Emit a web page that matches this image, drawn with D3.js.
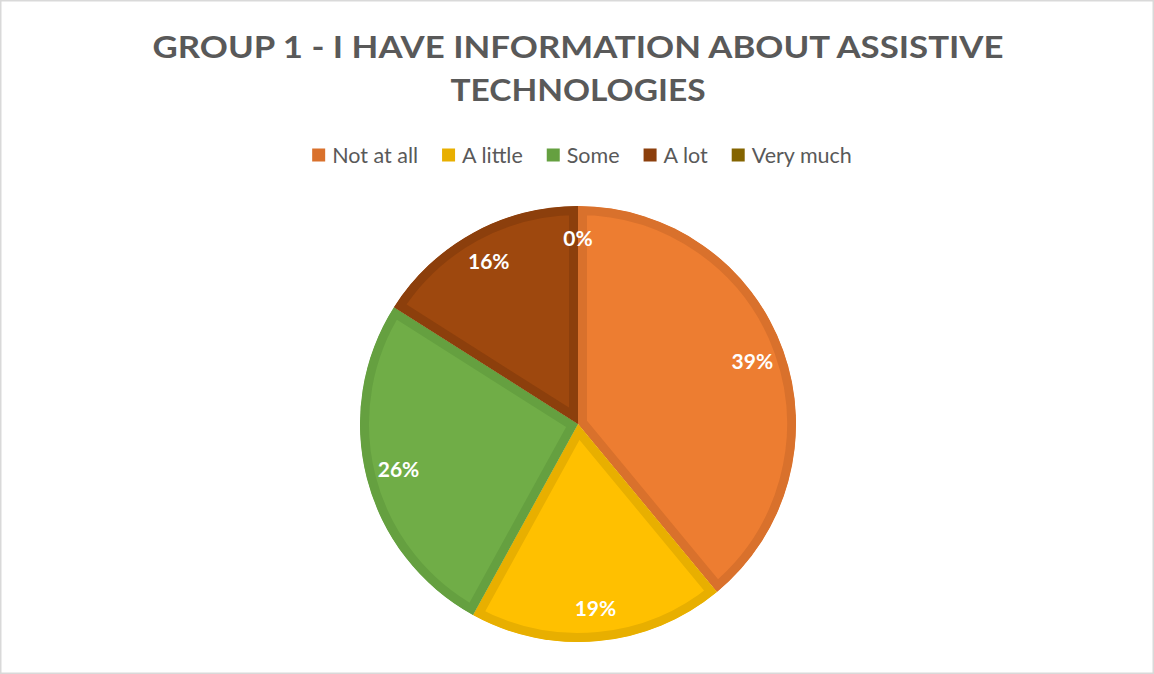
<!DOCTYPE html>
<html>
<head>
<meta charset="utf-8">
<script src="https://cdn.jsdelivr.net/npm/d3@7"></script>
<style>
  html, body { margin: 0; padding: 0; background: #fff; }
  svg { display: block; }
</style>
</head>
<body>
<svg id="chart" width="1154" height="674"></svg>
<script>
// Survey answers, share of respondents (%)
const categories = ["Not at all", "A little", "Some", "A lot", "Very much"];
const values = [39, 19, 26, 16, 0];
const titleLines = ["GROUP 1 - I HAVE INFORMATION ABOUT ASSISTIVE", "TECHNOLOGIES"];

const fillColors = ["#ED7D31", "#FFC000", "#70AD47", "#9E480E", "#997300"];
const edgeColors = ["#D9712C", "#E8AF00", "#65A040", "#8C3F0C", "#846400"];

const W = 1154, H = 674;
const svg = d3.select("#chart");

// outer frame
svg.append("rect")
  .attr("x", 0.75).attr("y", 0.75)
  .attr("width", W - 1.5).attr("height", H - 1.5)
  .attr("fill", "#fff").attr("stroke", "#D9D9D9").attr("stroke-width", 1.5);

// title
const title = svg.append("g");
const titleBaselines = [58, 101];
const titleWidths = [851, 255];
titleLines.forEach((t, i) => {
  const el = title.append("text")
    .attr("x", 578).attr("y", titleBaselines[i])
    .attr("text-anchor", "middle")
    .attr("font-family", "Lato, 'Open Sans', sans-serif")
    .attr("font-weight", 700)
    .attr("font-size", 31)
    .attr("fill", "#595959")
    .text(t);
  const w = el.node().getComputedTextLength();
  if (Math.abs(w - titleWidths[i]) > 4) {
    el.attr("textLength", titleWidths[i]).attr("lengthAdjust", "spacingAndGlyphs");
  }
});

// legend
const legend = svg.append("g");
const legendFont = 21.5;
const items = categories.map((c, i) => {
  const g = legend.append("g");
  g.append("rect").attr("width", 13).attr("height", 13).attr("y", -6.5)
    .attr("fill", edgeColors[i]);
  const tx = g.append("text").attr("x", 20).attr("dy", "0.35em")
    .attr("font-family", "Lato, 'Open Sans', sans-serif")
    .attr("font-size", legendFont).attr("fill", "#595959").text(c);
  return { g, w: 20 + tx.node().getComputedTextLength() };
});
const legendGap = 24;
const legendTotal = d3.sum(items, d => d.w) + legendGap * (items.length - 1);
let lx = 582 - legendTotal / 2;
items.forEach(d => {
  d.g.attr("transform", `translate(${lx},155)`);
  lx += d.w + legendGap;
});

// pie
const cx = 578, cy = 424, R = 218;
const pie = d3.pie().sort(null).value(d => d.v);
const arcs = pie(values.map((v, i) => ({ v, i })));
const arc = d3.arc().innerRadius(0).outerRadius(R);
const labelArc = d3.arc().innerRadius(R * 0.85).outerRadius(R * 0.85);

const defs = svg.append("defs");

arcs.forEach((a, k) => {
  if (a.endAngle - a.startAngle <= 0) return;
  const id = "slice-clip-" + k;
  defs.append("clipPath").attr("id", id)
    .append("path").attr("d", arc(a)).attr("transform", `translate(${cx},${cy})`);
  const wrap = svg.append("g").attr("clip-path", `url(#${id})`)
    .append("g").attr("transform", `translate(${cx},${cy})`);
  wrap.append("path")
    .attr("d", arc(a))
    .attr("fill", fillColors[a.data.i])
    .attr("stroke", edgeColors[a.data.i])
    .attr("stroke-width", 18)
    .attr("stroke-linejoin", "miter");
});

// value labels
const labels = svg.append("g").attr("transform", `translate(${cx},${cy})`);
arcs.forEach(a => {
  const [x, y] = labelArc.centroid(a);
  labels.append("text")
    .attr("x", x).attr("y", y)
    .attr("dy", "0.35em")
    .attr("text-anchor", "middle")
    .attr("font-family", "Lato, 'Open Sans', sans-serif")
    .attr("font-weight", 700)
    .attr("font-size", 21)
    .attr("fill", "#fff")
    .text(a.data.v + "%");
});
</script>
</body>
</html>
